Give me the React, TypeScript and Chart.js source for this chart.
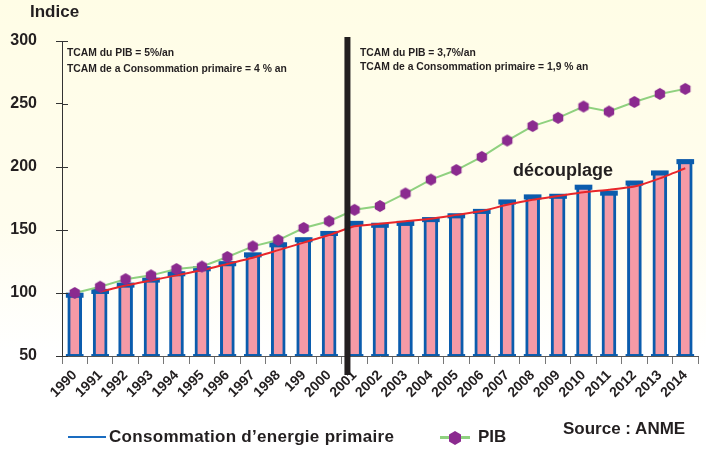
import React, { useEffect, useRef } from "react";
import { Chart, registerables } from "chart.js";
Chart.register(...registerables);

const years = [
  "1990", "1991", "1992", "1993", "1994", "1995", "1996", "1997", "1998", "199",
  "2000", "2001", "2002", "2003", "2004", "2005", "2006", "2007", "2008", "2009",
  "2010", "2011", "2012", "2013", "2014",
];
const consommation = [
  100, 103, 108, 112, 117, 121, 125, 132, 140, 144, 149, 157, 155.5, 157, 160,
  163, 166.5, 174, 178, 178.5, 185.7, 181, 189, 197, 206,
];
const tendance = [
  null, 101, 106, 110, 114, 118, 123, 128, 134, 140, 146, 153, 155, 157, 159,
  162, 165, 170, 174, 177, 180, 182, 184.5, 191, 199,
];
const pib = [
  100, 105, 111, 114, 119, 121, 128.6, 137, 142, 151.6, 157, 166, 169, 179, 190,
  197.6, 208, 221, 232.5, 239, 248, 244, 251.6, 258, 262,
];
const yTicks = [50, 100, 150, 200, 250, 300];
const yMin = 50;
const yMax = 300;
const capHeight = 3.5;
const baseHeight = 1.3;
const breakIndex = 10.72;

const FONT = '"Liberation Sans", Arial, Helvetica, sans-serif';
const BLUE = "#0b5cad";
const PINK = "#f59aa6";
const PURPLE = "#8b2a8f";
const GREEN = "#8fd17f";
const RED = "#e8262a";
const DARK = "#231f20";

function makeHexagon(r: number, color: string) {
  const c = document.createElement("canvas");
  const s = Math.ceil(r * 2 + 2);
  c.width = s;
  c.height = s;
  const ctx = c.getContext("2d")!;
  ctx.fillStyle = color;
  ctx.beginPath();
  for (let i = 0; i < 6; i++) {
    const a = -Math.PI / 2 + (i * Math.PI) / 3;
    const x = s / 2 + r * Math.cos(a);
    const y = s / 2 + r * Math.sin(a);
    if (i === 0) ctx.moveTo(x, y);
    else ctx.lineTo(x, y);
  }
  ctx.closePath();
  ctx.fill();
  return c;
}

const decorPlugin = {
  id: "decor",
  afterDraw(chart: any) {
    const { ctx, scales } = chart;
    const x = scales.x;
    const y = scales.y;
    ctx.save();
    ctx.strokeStyle = "#333";
    ctx.lineWidth = 1;
    yTicks.forEach((v) => {
      const py = Math.round(y.getPixelForValue(v)) + 0.5;
      ctx.beginPath();
      ctx.moveTo(x.left, py);
      ctx.lineTo(x.left + 6, py);
      ctx.stroke();
    });
    const bx = x.getPixelForValue(breakIndex);
    const top = y.getPixelForValue(yMax) - 4;
    ctx.fillStyle = DARK;
    ctx.fillRect(bx - 3, top, 6, y.bottom + 19 - top);
    ctx.restore();
  },
};

export default function App() {
  const ref = useRef<HTMLCanvasElement | null>(null);
  useEffect(() => {
    if (!ref.current) return;
    const hex = makeHexagon(6, PURPLE);
    const chart = new Chart(ref.current, {
      type: "bar",
      data: {
        labels: years,
        datasets: [
          {
            type: "line",
            label: "PIB",
            data: pib,
            borderColor: GREEN,
            borderWidth: 2,
            pointStyle: hex as any,
            pointRadius: 6,
            tension: 0,
            order: 0,
          } as any,
          {
            type: "line",
            label: "Tendance",
            data: tendance,
            borderColor: RED,
            borderWidth: 2,
            pointRadius: 0,
            tension: 0.15,
            order: 1,
          } as any,
          {
            label: "cap",
            data: consommation.map((v) => [v - capHeight, v]),
            backgroundColor: BLUE,
            borderWidth: 0,
            barThickness: 17,
            grouped: false,
            order: 2,
          } as any,
          {
            label: "base",
            data: consommation.map(() => [yMin, yMin + baseHeight]),
            backgroundColor: BLUE,
            borderWidth: 0,
            barThickness: 17,
            grouped: false,
            order: 3,
          } as any,
          {
            label: "Consommation d’energie primaire",
            data: consommation,
            backgroundColor: PINK,
            borderColor: BLUE,
            borderWidth: { left: 3, right: 3, top: 0, bottom: 0 },
            borderSkipped: false,
            barThickness: 14,
            grouped: false,
            order: 4,
          } as any,
        ],
      },
      options: {
        animation: false,
        responsive: false,
        maintainAspectRatio: false,
        layout: { padding: { top: 41, left: 0, right: -6, bottom: 0 } },
        plugins: {
          legend: { display: false },
          tooltip: { enabled: false },
          title: { display: false },
        },
        scales: {
          x: {
            offset: true,
            grid: {
              offset: true,
              drawOnChartArea: false,
              drawTicks: true,
              tickLength: 8,
              color: "#777",
            },
            border: { display: true, color: "#555", width: 1 },
            ticks: {
              autoSkip: false,
              maxRotation: 45,
              minRotation: 45,
              padding: 3,
              color: DARK,
              font: { family: FONT, size: 14, weight: "bold" },
            },
            afterFit: (s: any) => {
              s.height = 93;
            },
          },
          y: {
            min: yMin,
            max: yMax,
            afterBuildTicks: (s: any) => {
              s.ticks = yTicks.map((v) => ({ value: v }));
            },
            grid: {
              drawOnChartArea: false,
              drawTicks: true,
              tickLength: 6,
              color: "#333",
            },
            border: { display: true, color: "#333", width: 1 },
            ticks: {
              padding: 19,
              color: DARK,
              font: { family: FONT, size: 16, weight: "bold" },
            },
            afterFit: (s: any) => {
              s.width = 62;
            },
          },
        },
      },
      plugins: [decorPlugin],
    });
    return () => chart.destroy();
  }, []);

  const txt = (extra: React.CSSProperties): React.CSSProperties => ({
    position: "absolute",
    fontFamily: FONT,
    fontWeight: "bold",
    color: DARK,
    whiteSpace: "nowrap",
    ...extra,
  });
  const small = (left: number, top: number): React.CSSProperties =>
    txt({ left, top, fontSize: 11, lineHeight: "14px", transform: "scaleX(0.94)", transformOrigin: "left center" });

  return (
    <div
      style={{
        position: "fixed",
        left: 0,
        top: 0,
        width: 706,
        height: 449,
        overflow: "hidden",
        background: "linear-gradient(to bottom, #fffde6 0%, #fffdee 50%, #ffffff 78%, #ffffff 100%)",
      }}
    >
      <canvas ref={ref} width={706} height={449} style={{ position: "absolute", left: 0, top: 0 }} />
      <div style={txt({ left: 30, top: 2, fontSize: 17, lineHeight: "20px" })}>Indice</div>
      <div style={small(67, 45)}>TCAM du PIB = 5%/an</div>
      <div style={small(67, 61)}>TCAM de a Consommation primaire = 4 % an</div>
      <div style={small(360, 45)}>TCAM du PIB = 3,7%/an</div>
      <div style={small(360, 59)}>TCAM de a Consommation primaire = 1,9 % an</div>
      <div style={txt({ left: 513, top: 159, fontSize: 18, lineHeight: "22px" })}>découplage</div>
      <div style={{ position: "absolute", left: 68, top: 436, width: 38, height: 2, background: "#1a6cc0" }} />
      <div style={txt({ left: 109, top: 427, fontSize: 17, lineHeight: "20px", letterSpacing: "0.3px" })}>
        Consommation d’energie primaire
      </div>
      <div style={{ position: "absolute", left: 440, top: 436, width: 30, height: 3, background: GREEN }} />
      <svg style={{ position: "absolute", left: 448, top: 430 }} width={14} height={16} viewBox="0 0 14 16">
        <polygon points="7,1 13,4.5 13,11.5 7,15 1,11.5 1,4.5" fill={PURPLE} />
      </svg>
      <div style={txt({ left: 478, top: 427, fontSize: 17, lineHeight: "20px" })}>PIB</div>
      <div style={txt({ left: 563, top: 419, fontSize: 17, lineHeight: "20px" })}>Source : ANME</div>
    </div>
  );
}
